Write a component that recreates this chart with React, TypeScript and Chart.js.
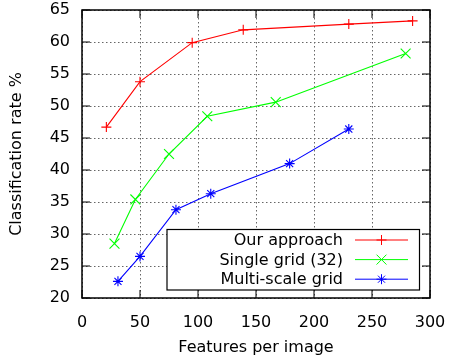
import React, { useEffect, useRef } from 'react';
import { Chart, registerables } from 'chart.js';

Chart.register(...registerables);

const seriesNames = ['Our approach', 'Single grid (32)', 'Multi-scale grid'];
const seriesColors = ['#ff0000', '#00ff00', '#0000ff'];
const seriesMarkers = ['cross', 'crossRot', 'star'];

const ourX = [21, 50, 95, 139, 230, 285];
const ourY = [46.7, 53.8, 59.9, 61.9, 62.8, 63.3];
const singleX = [28, 46, 75, 108, 167, 279];
const singleY = [28.5, 35.4, 42.5, 48.4, 50.6, 58.2];
const multiX = [31, 50, 81, 111, 179, 230];
const multiY = [22.6, 26.5, 33.8, 36.3, 41.0, 46.4];

const xMin = 0;
const xMax = 300;
const xStep = 50;
const yMin = 20;
const yMax = 65;
const yStep = 5;

const xTitle = 'Features per image';
const yTitle = 'Classification rate %';

const FONT = "'DejaVu Sans', sans-serif";

function pts(xs: number[], ys: number[]) {
  return xs.map((x, i) => ({ x, y: ys[i] }));
}

function drawMarker(ctx: CanvasRenderingContext2D, style: string, x: number, y: number, r: number) {
  ctx.beginPath();
  if (style === 'cross' || style === 'star') {
    ctx.moveTo(x - r, y);
    ctx.lineTo(x + r, y);
    ctx.moveTo(x, y - r);
    ctx.lineTo(x, y + r);
  }
  if (style === 'crossRot' || style === 'star') {
    const d = r * Math.SQRT1_2;
    ctx.moveTo(x - d, y - d);
    ctx.lineTo(x + d, y + d);
    ctx.moveTo(x - d, y + d);
    ctx.lineTo(x + d, y - d);
  }
  ctx.stroke();
}

const framePlugin = {
  id: 'gnuFrame',
  afterDatasetsDraw(chart: any) {
    const { ctx, chartArea } = chart;
    const { left, right, top, bottom } = chartArea;
    const xs = chart.scales.x;
    const ys = chart.scales.y;
    const tl = 8;
    ctx.save();
    ctx.strokeStyle = '#000';
    ctx.lineWidth = 1;
    ctx.setLineDash([]);
    ctx.beginPath();
    for (let v = xMin; v <= xMax; v += xStep) {
      const px = xs.getPixelForValue(v);
      ctx.moveTo(px, bottom);
      ctx.lineTo(px, bottom - tl);
      ctx.moveTo(px, top);
      ctx.lineTo(px, top + tl);
    }
    for (let v = yMin; v <= yMax; v += yStep) {
      const py = ys.getPixelForValue(v);
      ctx.moveTo(left, py);
      ctx.lineTo(left + tl, py);
      ctx.moveTo(right, py);
      ctx.lineTo(right - tl, py);
    }
    ctx.stroke();
    ctx.lineWidth = 1.5;
    ctx.strokeRect(left, top, right - left, bottom - top);

    // legend
    const bx1 = right - 263;
    const bx2 = right - 10.5;
    const by1 = bottom - 68.5;
    const by2 = bottom - 8;
    ctx.fillStyle = '#fff';
    ctx.fillRect(bx1, by1, bx2 - bx1, by2 - by1);
    ctx.lineWidth = 1.2;
    ctx.strokeStyle = '#000';
    ctx.strokeRect(bx1, by1, bx2 - bx1, by2 - by1);
    ctx.font = `16px ${FONT}`;
    ctx.textAlign = 'right';
    ctx.textBaseline = 'middle';
    const rowY0 = by1 + 10.5;
    const rowH = 19.6;
    const textRight = right - 87;
    const lineX1 = right - 75;
    const lineX2 = right - 22;
    seriesNames.forEach((name, i) => {
      const yy = rowY0 + i * rowH;
      ctx.fillStyle = '#000';
      ctx.fillText(name, textRight, yy + 1);
      ctx.strokeStyle = seriesColors[i];
      ctx.lineWidth = 1;
      ctx.beginPath();
      ctx.moveTo(lineX1, yy);
      ctx.lineTo(lineX2, yy);
      ctx.stroke();
      drawMarker(ctx, seriesMarkers[i], (lineX1 + lineX2) / 2, yy, i === 1 ? 7 : 5);
    });
    ctx.restore();
  },
};

export default function App() {
  const ref = useRef<HTMLCanvasElement | null>(null);
  useEffect(() => {
    if (!ref.current) return;
    const mk = (i: number, data: { x: number; y: number }[]) => ({
      label: seriesNames[i],
      data,
      borderColor: seriesColors[i],
      backgroundColor: seriesColors[i],
      borderWidth: 1.1,
      pointStyle: seriesMarkers[i],
      pointRadius: i === 1 ? 7 : 5,
      pointBorderWidth: 1.1,
      pointBorderColor: seriesColors[i],
      showLine: true,
      fill: false,
      tension: 0,
    });
    const chart = new Chart(ref.current, {
      type: 'scatter',
      data: {
        datasets: [mk(0, pts(ourX, ourY)), mk(1, pts(singleX, singleY)), mk(2, pts(multiX, multiY))],
      },
      options: {
        animation: false,
        responsive: false,
        maintainAspectRatio: false,
        layout: { padding: { top: 10, right: 20, left: 0, bottom: 0 } },
        plugins: { legend: { display: false }, tooltip: { enabled: false } },
        scales: {
          x: {
            type: 'linear',
            min: xMin,
            max: xMax,
            afterFit: (s: any) => { s.height = 62; s.paddingLeft = 0; s.paddingRight = 0; },
            ticks: { stepSize: xStep, color: '#000', font: { family: FONT, size: 16 }, padding: 15, maxRotation: 0 },
            grid: { color: '#666', drawTicks: false, lineWidth: 1 },
            border: { display: false, dash: [1.5, 2.5] },
            title: { display: true, text: xTitle, color: '#000', font: { family: FONT, size: 16 }, padding: { top: 0, bottom: 3 } },
          },
          y: {
            type: 'linear',
            min: yMin,
            max: yMax,
            afterFit: (s: any) => { s.width = 82; s.paddingTop = 0; s.paddingBottom = 0; },
            ticks: { stepSize: yStep, color: '#000', font: { family: FONT, size: 16 }, padding: 12 },
            grid: { color: '#666', drawTicks: false, lineWidth: 1 },
            border: { display: false, dash: [1.5, 2.5] },
            title: { display: true, text: yTitle, color: '#000', font: { family: FONT, size: 16 }, padding: { top: 7, bottom: 0 } },
          },
        },
      },
      plugins: [framePlugin],
    } as any);
    return () => chart.destroy();
  }, []);
  return (
    <div style={{ position: 'fixed', left: 0, top: 0, width: 450, height: 360, background: '#fff' }}>
      <canvas ref={ref} width={450} height={360} style={{ width: 450, height: 360 }} />
    </div>
  );
}
